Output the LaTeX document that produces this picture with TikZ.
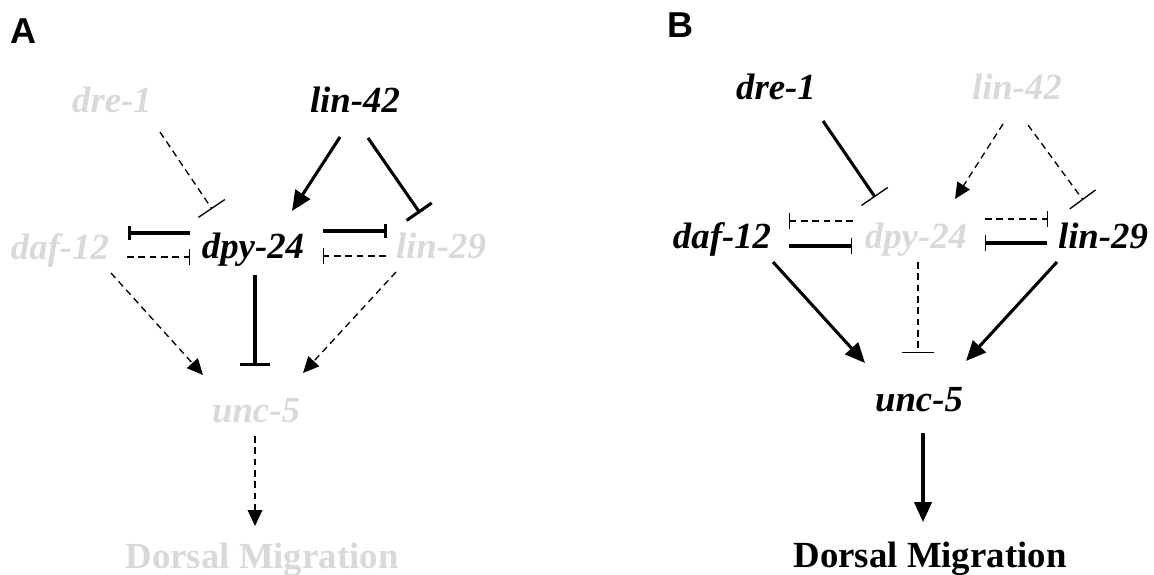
\documentclass[tikz,border=0pt]{standalone}
\usepackage{fontspec}
\setmainfont{Liberation Serif}
\newfontfamily\panelfont{Liberation Sans}
\usetikzlibrary{arrows.meta}
\definecolor{faint}{gray}{0.85}
\begin{document}
\begin{tikzpicture}[x=0.75pt,y=-0.75pt,
  gene/.style={font=\fontsize{27.6}{30}\selectfont\bfseries\itshape, inner sep=0, anchor=base},
  outcome/.style={font=\fontsize{27.6}{30}\selectfont\bfseries, inner sep=0, anchor=base},
  panel/.style={font=\panelfont\bfseries\fontsize{27}{30}\selectfont, inner sep=0, anchor=base},
  on/.style={text=black},
  off/.style={text=faint},
  thickln/.style={line width=2.3pt},
  thinln/.style={line width=1pt, dash pattern=on 5pt off 3.5pt},
  actthick/.style={-{Triangle[length=15pt,width=13pt]}},
  actthin/.style={-{Triangle[length=12pt,width=11pt]}},
  inhbig/.style={-{Bar[width=23pt,line width=2.3pt]}},
  inhsmall/.style={-{Bar[width=11pt,line width=2.3pt]}},
  inhbigthin/.style={-{Bar[width=24pt,line width=1pt]}},
  inhsmallthin/.style={-{Bar[width=12pt,line width=1pt]}},
]
\useasboundingbox (0,0) rectangle (1154,575);

% ---------------- Panel A ----------------
\node[panel] (labA) at (23,43) {A};
\node[gene,off] (Adre) at (112,112) {dre-1};
\node[gene,on] (Alin42) at (355,112) {lin-42};
\node[gene,off] (Adaf) at (60,259) {daf-12};
\node[gene,on] (Adpy) at (253,258) {dpy-24};
\node[gene,off] (Alin29) at (441,258) {lin-29};
\node[gene,off] (Aunc) at (256,422) {unc-5};
\node[outcome,off] (Adm) at (262,568) {Dorsal Migration};

\coordinate (a1s) at (160,132); \coordinate (a1e) at (212,209);
\coordinate (a2s) at (340,137); \coordinate (a2e) at (292,211);
\coordinate (a3s) at (368,138); \coordinate (a3e) at (420,213);
\coordinate (a4s) at (190,233); \coordinate (a4e) at (128,233);
\coordinate (a5s) at (127,257); \coordinate (a5e) at (190,257);
\coordinate (a6s) at (323,231); \coordinate (a6e) at (387,231);
\coordinate (a7s) at (386,256); \coordinate (a7e) at (323,256);
\coordinate (a8s) at (111,273); \coordinate (a8e) at (203,375);
\coordinate (a9s) at (396,272); \coordinate (a9e) at (303,373);
\coordinate (a10s) at (255,275); \coordinate (a10e) at (255,366);
\coordinate (a11s) at (255,436); \coordinate (a11e) at (255,526);

\draw[thinln,inhbigthin] (a1s) -- (a1e);
\draw[thickln,actthick] (a2s) -- (a2e);
\draw[thickln,inhbig] (a3s) -- (a3e);
\draw[thickln,inhsmall] (a4s) -- (a4e);
\draw[thinln,inhsmallthin] (a5s) -- (a5e);
\draw[thickln,inhsmall] (a6s) -- (a6e);
\draw[thinln,inhsmallthin] (a7s) -- (a7e);
\draw[thinln,actthin] (a8s) -- (a8e);
\draw[thinln,actthin] (a9s) -- (a9e);
\draw[thickln,inhbig] (a10s) -- (a10e);
\draw[thinln,actthin] (a11s) -- (a11e);

% ---------------- Panel B ----------------
\node[panel] (labB) at (680,37) {B};
\node[gene,on] (Bdre) at (776,99) {dre-1};
\node[gene,off] (Blin42) at (1017,99) {lin-42};
\node[gene,on] (Bdaf) at (722,248) {daf-12};
\node[gene,off] (Bdpy) at (916,248) {dpy-24};
\node[gene,on] (Blin29) at (1103,248) {lin-29};
\node[gene,on] (Bunc) at (919,411) {unc-5};
\node[outcome,on] (Bdm) at (930,567) {Dorsal Migration};

\coordinate (b1s) at (823,121); \coordinate (b1e) at (875,197);
\coordinate (b2s) at (1003,124); \coordinate (b2e) at (955,199);
\coordinate (b3s) at (1028,125); \coordinate (b3e) at (1083,200);
\coordinate (b4s) at (853,221); \coordinate (b4e) at (789,221);
\coordinate (b5s) at (789,246); \coordinate (b5e) at (852,246);
\coordinate (b6s) at (985,219); \coordinate (b6e) at (1048,219);
\coordinate (b7s) at (1047,243); \coordinate (b7e) at (985,243);
\coordinate (b8s) at (773,262); \coordinate (b8e) at (865,363);
\coordinate (b9s) at (1057,262); \coordinate (b9e) at (966,361);
\coordinate (b10s) at (918,262); \coordinate (b10e) at (918,353);
\coordinate (b11s) at (923,433); \coordinate (b11e) at (923,522);

\draw[thickln,inhbigthin] (b1s) -- (b1e);
\draw[thinln,actthin] (b2s) -- (b2e);
\draw[thinln,inhbigthin] (b3s) -- (b3e);
\draw[thinln,inhsmallthin] (b4s) -- (b4e);
\draw[thickln,inhsmallthin] (b5s) -- (b5e);
\draw[thinln,inhsmallthin] (b6s) -- (b6e);
\draw[thickln,inhsmallthin] (b7s) -- (b7e);
\draw[thickln,actthick] (b8s) -- (b8e);
\draw[thickln,actthick] (b9s) -- (b9e);
\draw[thinln,inhbigthin] (b10s) -- (b10e);
\draw[thickln,actthick] (b11s) -- (b11e);
\end{tikzpicture}
\end{document}
